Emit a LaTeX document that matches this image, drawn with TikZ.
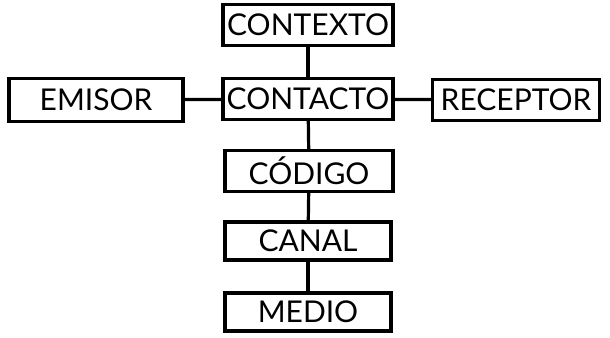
\documentclass[tikz,border=0pt]{standalone}
\usepackage{fontspec}
\setmainfont{Lato}
\begin{document}
\begin{tikzpicture}[x=1bp,y=-1bp,
  box/.style={draw=black,line width=3.2bp,rectangle,minimum width=170bp,minimum height=41bp,inner sep=0pt,font=\fontsize{30bp}{32bp}\selectfont,text=black},
  conn/.style={line width=3.2bp,draw=black}]
\useasboundingbox (0,0) rectangle (610,337);
\node[box] (contexto) at (308,25) {CONTEXTO};
\node[box] (contacto) at (308,99) {CONTACTO};
\node[box,minimum width=174bp,minimum height=43bp] (emisor) at (96,100) {EMISOR};
\node[box,minimum width=167bp] (receptor) at (516,100) {RECEPTOR};
\node[box,minimum width=168bp] (codigo) at (309,171) {CÓDIGO};
\node[box,minimum width=166bp,minimum height=38bp] (canal) at (308,241) {CANAL};
\node[box,minimum width=166bp,minimum height=38bp] (medio) at (308,312) {MEDIO};
\draw[conn] (contexto) -- (contacto);
\draw[conn] (contacto) -- (codigo);
\draw[conn] (codigo) -- (canal);
\draw[conn] (canal) -- (medio);
\draw[conn] (emisor) -- (contacto);
\draw[conn] (contacto) -- (receptor);
\end{tikzpicture}
\end{document}
